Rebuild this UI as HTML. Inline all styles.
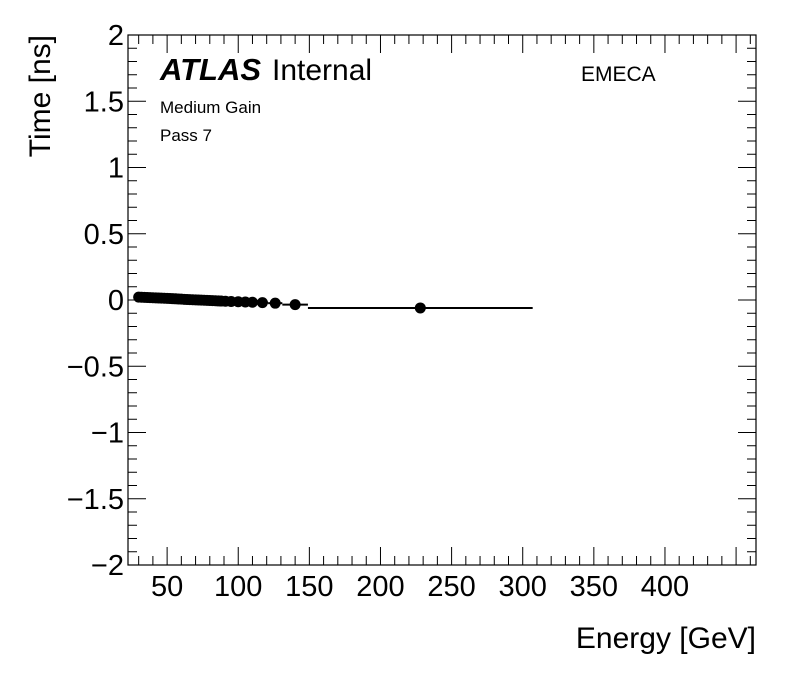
<!DOCTYPE html>
<html><head><meta charset="utf-8">
<style>
body{margin:0;background:#fff;}
svg text{font-family:"Liberation Sans",Arial,sans-serif;}
</style></head>
<body>
<svg id="chart" width="796" height="672" viewBox="0 0 796 672" xmlns="http://www.w3.org/2000/svg">
<rect width="796" height="672" fill="#fff"/>
<g id="axes"></g>
<g id="marks"></g>
<text x="160" y="80" font-size="31" font-weight="bold" font-style="italic">ATLAS</text>
<text x="272" y="80" font-size="30">Internal</text>
<text x="160" y="113" font-size="17">Medium Gain</text>
<text x="160" y="141" font-size="17">Pass 7</text>
<text x="581" y="81" font-size="21">EMECA</text>
<text x="756" y="648" font-size="30" text-anchor="end">Energy [GeV]</text>
<text transform="translate(50,35) rotate(-90)" font-size="30" text-anchor="end">Time [ns]</text>
</svg>
<script>
const energies=[30,32,34,36,38,40,42,44,46,48,50,52,54,56,58,60,62,64,66,68,70,72,74,76,78,80,82,84,86,88,91,95,100,105,110,117,126,140,228];
const times=[0.022,0.021,0.02,0.019,0.018,0.017,0.016,0.015,0.014,0.013,0.012,0.011,0.01,0.009,0.008,0.007,0.005,0.004,0.003,0.002,0.001,0,-0.001,-0.002,-0.003,-0.004,-0.005,-0.006,-0.007,-0.008,-0.009,-0.011,-0.013,-0.015,-0.017,-0.02,-0.024,-0.035,-0.06];
const xErr=[1,1,1,1,1,1,1,1,1,1,1,1,1,1,1,1,1,1,1,1,1,1,1,1,1,1,1,1,1,1,2,2,3,3,3,4,5,9,79];
const xTicks=[50,100,150,200,250,300,350,400];
const yTicks=[-2,-1.5,-1,-0.5,0,0.5,1,1.5,2];
const yTickLabels=["\u22122","\u22121.5","\u22121","\u22120.5","0","0.5","1","1.5","2"];

const L=128,R=756,T=35,B=565,xMin=22.5,xMax=464,yMin=-2,yMax=2;
const sx=v=>L+(v-xMin)/(xMax-xMin)*(R-L);
const sy=v=>B-(v-yMin)/(yMax-yMin)*(B-T);
const NS="http://www.w3.org/2000/svg";
const axes=document.getElementById('axes'),marks=document.getElementById('marks');
function mk(tag,attrs,parent){const e=document.createElementNS(NS,tag);for(const k in attrs)e.setAttribute(k,attrs[k]);parent.appendChild(e);return e;}

const frame=mk('rect',{x:L,y:T,width:R-L,height:B-T,fill:'none',stroke:'#000','stroke-width':1.2},axes);



for(let v=30;v<=460;v+=10){
  const x=sx(v),major=v%50===0,len=major?18:9;
  const t1=mk('line',{x1:x,x2:x,y1:B,y2:B-len,stroke:'#000'},axes);
  
  
  const t2=mk('line',{x1:x,x2:x,y1:T,y2:T+len,stroke:'#000'},axes);
  
  
}
xTicks.forEach(v=>{
  const t=mk('text',{x:sx(v),y:596,'font-size':29,'text-anchor':'middle'},axes);
  t.textContent=v;
  
  
});
for(let i=0;i<=40;i++){
  const v=-2+i*0.1,y=sy(v),major=i%5===0,len=major?18:9;
  const t1=mk('line',{x1:L,x2:L+len,y1:y,y2:y,stroke:'#000'},axes);
  
  
  const t2=mk('line',{x1:R,x2:R-len,y1:y,y2:y,stroke:'#000'},axes);
  
  
}
yTicks.forEach((v,i)=>{
  const t=mk('text',{x:124,y:sy(v)+10,'font-size':29,'text-anchor':'end'},axes);
  t.textContent=yTickLabels[i];
  
  
});

energies.forEach((e,i)=>{
  const y=sy(times[i]);
  const l=mk('line',{x1:sx(e-xErr[i]),x2:sx(e+xErr[i]),y1:y,y2:y,stroke:'#000','stroke-width':2},marks);
  
  
  const c=mk('circle',{cx:sx(e),cy:y,r:5.5,fill:'#000'},marks);
  
  
});
</script>
</body></html>
